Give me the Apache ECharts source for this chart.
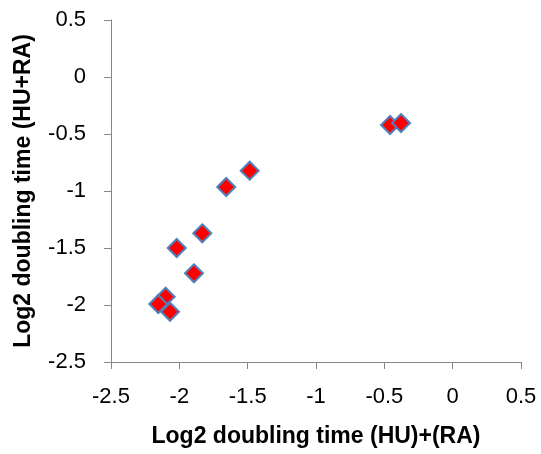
<!DOCTYPE html>
<html>
<head>
<meta charset="utf-8">
<script src="https://cdn.jsdelivr.net/npm/echarts@6/dist/echarts.min.js"></script>
<style>html,body{margin:0;padding:0;background:#fff;}#c{width:541px;height:454px;}</style>
</head>
<body>
<div id="c"></div>
<script>
var xValues = [-0.458, -0.378, -1.485, -1.657, -1.832, -2.019, -1.893, -2.100, -2.154, -2.068];
var yValues = [-0.421, -0.404, -0.822, -0.965, -1.371, -1.500, -1.722, -1.927, -1.991, -2.059];
var xAxisTitle = 'Log2 doubling time (HU)+(RA)';
var yAxisTitle = 'Log2 doubling time (HU+RA)';
var axisMin = -2.5, axisMax = 0.5, axisStep = 0.5;

var points = xValues.map(function (x, i) { return [x, yValues[i]]; });
var font = '"Liberation Sans", Arial, sans-serif';
var chart = echarts.init(document.getElementById('c'), null, {renderer: 'canvas'});
chart.setOption({
  animation: false,
  backgroundColor: '#ffffff',
  grid: {left: 111, top: 20, right: 20, bottom: 92, containLabel: false},
  xAxis: {
    type: 'value', min: axisMin, max: axisMax, interval: axisStep,
    name: xAxisTitle, nameLocation: 'middle', nameGap: 63,
    nameTextStyle: {fontFamily: font, fontSize: 23, fontWeight: 'bold', color: '#000'},
    axisLine: {onZero: false, lineStyle: {color: '#868686', width: 1}},
    axisTick: {show: true, length: 7, lineStyle: {color: '#868686'}},
    axisLabel: {fontFamily: font, fontSize: 22, color: '#000', margin: 24},
    splitLine: {show: false}
  },
  yAxis: {
    type: 'value', min: axisMin, max: axisMax, interval: axisStep,
    name: yAxisTitle, nameLocation: 'middle', nameGap: 76, nameRotate: 90,
    nameTextStyle: {fontFamily: font, fontSize: 23, fontWeight: 'bold', color: '#000'},
    axisLine: {show: true, onZero: false, lineStyle: {color: '#868686', width: 1}},
    axisTick: {show: true, length: 7, lineStyle: {color: '#868686'}},
    axisLabel: {fontFamily: font, fontSize: 22, color: '#000', margin: 25},
    splitLine: {show: false}
  },
  series: [{
    type: 'scatter',
    data: points,
    symbol: 'diamond',
    symbolSize: 18,
    itemStyle: {color: '#ff0000', borderColor: '#4f81bd', borderWidth: 2, opacity: 1}
  }]
});
</script>
</body>
</html>
